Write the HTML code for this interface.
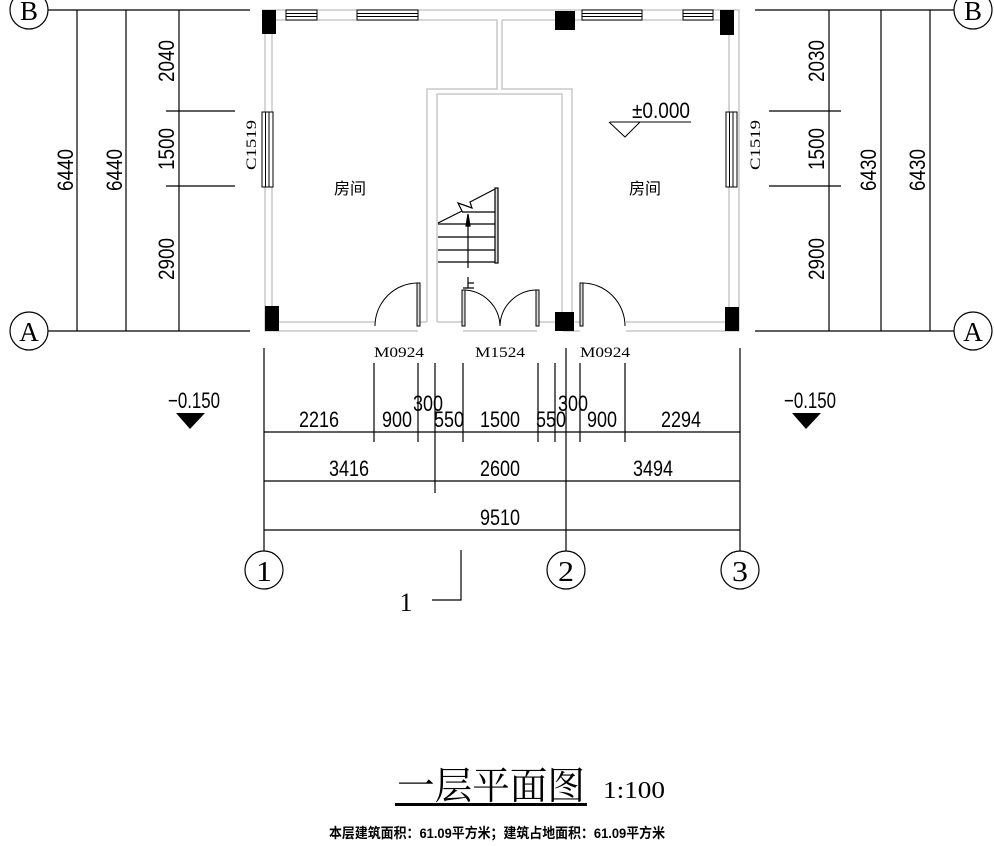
<!DOCTYPE html>
<html><head><meta charset="utf-8"><style>
html,body{margin:0;padding:0;background:#fff;}
svg{display:block;}
.d{font-family:"Liberation Sans",sans-serif;font-size:22px;fill:#000;}
.s{font-family:"Liberation Serif",serif;font-size:15px;fill:#000;}
.c{font-family:"Liberation Sans","Noto Sans CJK SC",sans-serif;font-size:16px;fill:#000;}
</style></head><body>
<svg width="994" height="846" viewBox="0 0 994 846" xmlns="http://www.w3.org/2000/svg">
<g fill="none" stroke="#c8c8c8" stroke-width="1.5">
<path d="M262 10 H739 V331 H626 M580 331 H563 M537 331 H463 M418 331 H375 M375 331 H265 V10"/>
<path d="M272 20 H497 V89 H427 V322 M502 20 H729 V322 H626 M502 20 V89 H572 V322 M437 322 V94 H562 V322 M272 20 V322 H375"/>
<path d="M418 322 H427 M437 322 H463 M537 322 H555 M575 322 H580"/>
</g>
<g fill="#fff" stroke="#000" stroke-width="1">
<rect x="286" y="10" width="31" height="10"/><line x1="286" y1="13.5" x2="317" y2="13.5"/><line x1="286" y1="16.5" x2="317" y2="16.5"/>
<rect x="357" y="10" width="61" height="10"/><line x1="357" y1="13.5" x2="418" y2="13.5"/><line x1="357" y1="16.5" x2="418" y2="16.5"/>
<rect x="582" y="10" width="60" height="10"/><line x1="582" y1="13.5" x2="642" y2="13.5"/><line x1="582" y1="16.5" x2="642" y2="16.5"/>
<rect x="683" y="10" width="30" height="10"/><line x1="683" y1="13.5" x2="713" y2="13.5"/><line x1="683" y1="16.5" x2="713" y2="16.5"/>
<rect x="262" y="112" width="11" height="75"/><line x1="265.5" y1="112" x2="265.5" y2="187"/><line x1="269" y1="112" x2="269" y2="187"/>
<rect x="726" y="112" width="11" height="75"/><line x1="729.5" y1="112" x2="729.5" y2="187"/><line x1="733" y1="112" x2="733" y2="187"/>
</g>
<g fill="#000">
<rect x="262" y="10" width="14" height="24"/>
<rect x="555" y="11" width="20" height="19"/>
<rect x="720" y="10" width="14" height="25"/>
<rect x="265" y="306" width="14" height="25"/>
<rect x="555" y="312" width="19" height="19"/>
<rect x="725" y="307" width="14" height="24"/>
</g>
<g stroke="#000" stroke-width="1.2" fill="none">
<line x1="438" y1="224" x2="497" y2="224"/><line x1="438" y1="237" x2="497" y2="237"/>
<line x1="438" y1="250" x2="497" y2="250"/><line x1="438" y1="262" x2="497" y2="262"/>
<line x1="462" y1="212" x2="497" y2="212"/>
<path d="M438 223 L462 211 L458 203 L472 208 L470 202 L497 188"/>
<rect x="495" y="188" width="3" height="75" fill="#ddd"/>
<line x1="468" y1="268" x2="468" y2="222"/>
<path d="M466 226 L468 214 L470 226 Z" fill="#000"/>
<path d="M468 277 V288 M468 283 H474 M463 288 H474"/>
</g>
<g stroke="#000" stroke-width="1" fill="none">
<path d="M375 326 A43 43 0 0 1 418 283"/>
<rect x="417" y="283" width="3" height="43" fill="#ddd"/>
<path d="M463 290 A37 37 0 0 1 500 326 A37 37 0 0 1 537 290"/>
<rect x="462" y="290" width="3" height="36" fill="#ddd"/>
<rect x="536" y="290" width="3" height="36" fill="#ddd"/>
<path d="M582 283 A43 43 0 0 1 625 326"/>
<rect x="580" y="283" width="3" height="43" fill="#ddd"/>
</g>
<text x="632" y="118" class="d" textLength="58" lengthAdjust="spacingAndGlyphs">±0.000</text>
<path d="M610 122 H691 M609 122 L625 137 L640 122" stroke="#000" fill="none"/>
<text x="334" y="194" class="c">房间</text>
<text x="629" y="194" class="c">房间</text>
<g stroke="#000" stroke-width="1.2">
<line x1="48" y1="10" x2="250" y2="10"/><line x1="48" y1="331" x2="250" y2="331"/>
<line x1="77" y1="10" x2="77" y2="331"/><line x1="126" y1="10" x2="126" y2="331"/><line x1="179" y1="10" x2="179" y2="331"/>
<line x1="166" y1="111" x2="235" y2="111"/><line x1="166" y1="186" x2="235" y2="186"/>
<line x1="755" y1="10" x2="955" y2="10"/><line x1="755" y1="331" x2="955" y2="331"/>
<line x1="829" y1="10" x2="829" y2="331"/><line x1="881" y1="10" x2="881" y2="331"/><line x1="930" y1="10" x2="930" y2="331"/>
<line x1="769" y1="111" x2="841" y2="111"/><line x1="769" y1="186" x2="841" y2="186"/>
</g>
<g fill="#fff" stroke="#000" stroke-width="1.2">
<circle cx="29" cy="10" r="19"/><circle cx="29" cy="331" r="19"/>
<circle cx="973" cy="10" r="19"/><circle cx="973" cy="331" r="19"/>
</g>
<g font-family="Liberation Serif,serif" font-size="27" text-anchor="middle">
<text x="29" y="20">B</text><text x="29" y="341">A</text>
<text x="973" y="20">B</text><text x="973" y="341">A</text>
</g>
<g class="d">
<text transform="translate(73,170) rotate(-90)" text-anchor="middle" textLength="42" lengthAdjust="spacingAndGlyphs">6440</text>
<text transform="translate(122,170) rotate(-90)" text-anchor="middle" textLength="42" lengthAdjust="spacingAndGlyphs">6440</text>
<text transform="translate(174,61) rotate(-90)" text-anchor="middle" textLength="42" lengthAdjust="spacingAndGlyphs">2040</text>
<text transform="translate(174,149) rotate(-90)" text-anchor="middle" textLength="42" lengthAdjust="spacingAndGlyphs">1500</text>
<text transform="translate(174,259) rotate(-90)" text-anchor="middle" textLength="42" lengthAdjust="spacingAndGlyphs">2900</text>
<text transform="translate(824,61) rotate(-90)" text-anchor="middle" textLength="42" lengthAdjust="spacingAndGlyphs">2030</text>
<text transform="translate(824,149) rotate(-90)" text-anchor="middle" textLength="42" lengthAdjust="spacingAndGlyphs">1500</text>
<text transform="translate(824,259) rotate(-90)" text-anchor="middle" textLength="42" lengthAdjust="spacingAndGlyphs">2900</text>
<text transform="translate(876,170) rotate(-90)" text-anchor="middle" textLength="42" lengthAdjust="spacingAndGlyphs">6430</text>
<text transform="translate(925,170) rotate(-90)" text-anchor="middle" textLength="42" lengthAdjust="spacingAndGlyphs">6430</text>
</g>
<g class="s" fill="#333">
<text transform="translate(256,145) rotate(-90)" text-anchor="middle" textLength="50" lengthAdjust="spacingAndGlyphs">C1519</text>
<text transform="translate(760,145) rotate(-90)" text-anchor="middle" textLength="50" lengthAdjust="spacingAndGlyphs">C1519</text>
<text x="399" y="357" text-anchor="middle" textLength="50" lengthAdjust="spacingAndGlyphs">M0924</text>
<text x="500" y="357" text-anchor="middle" textLength="50" lengthAdjust="spacingAndGlyphs">M1524</text>
<text x="605" y="357" text-anchor="middle" textLength="50" lengthAdjust="spacingAndGlyphs">M0924</text>
</g>
<g stroke="#000" stroke-width="1.2">
<line x1="264" y1="348" x2="264" y2="551"/><line x1="740" y1="348" x2="740" y2="551"/>
<line x1="566" y1="348" x2="566" y2="551"/>
<line x1="374" y1="363" x2="374" y2="442"/><line x1="418" y1="363" x2="418" y2="442"/>
<line x1="435" y1="363" x2="435" y2="493"/><line x1="463" y1="363" x2="463" y2="442"/>
<line x1="538" y1="363" x2="538" y2="442"/><line x1="555" y1="363" x2="555" y2="442"/>
<line x1="580" y1="363" x2="580" y2="442"/><line x1="625" y1="363" x2="625" y2="442"/>
<line x1="264" y1="432" x2="740" y2="432"/>
<line x1="264" y1="481" x2="740" y2="481"/>
<line x1="264" y1="530" x2="740" y2="530"/>
<path d="M461 550 V600 H432" fill="none"/>
</g>
<g fill="#fff" stroke="#000" stroke-width="1.2">
<circle cx="264" cy="570" r="19"/><circle cx="566" cy="570" r="19"/><circle cx="740" cy="570" r="19"/>
</g>
<g font-family="Liberation Serif,serif" font-size="28" text-anchor="middle">
<text x="264" y="581" textLength="16" lengthAdjust="spacingAndGlyphs">1</text>
<text x="566" y="581" textLength="16" lengthAdjust="spacingAndGlyphs">2</text>
<text x="740" y="581" textLength="16" lengthAdjust="spacingAndGlyphs">3</text>
<text x="406" y="611" font-size="26">1</text>
</g>
<g class="d" text-anchor="middle">
<text x="319" y="427" textLength="40" lengthAdjust="spacingAndGlyphs">2216</text>
<text x="397" y="427" textLength="30" lengthAdjust="spacingAndGlyphs">900</text>
<text x="428" y="411" textLength="30" lengthAdjust="spacingAndGlyphs">300</text>
<text x="449" y="427" textLength="30" lengthAdjust="spacingAndGlyphs">550</text>
<text x="500" y="427" textLength="40" lengthAdjust="spacingAndGlyphs">1500</text>
<text x="551" y="427" textLength="30" lengthAdjust="spacingAndGlyphs">550</text>
<text x="573" y="411" textLength="30" lengthAdjust="spacingAndGlyphs">300</text>
<text x="602" y="427" textLength="30" lengthAdjust="spacingAndGlyphs">900</text>
<text x="681" y="427" textLength="40" lengthAdjust="spacingAndGlyphs">2294</text>
<text x="349" y="476" textLength="40" lengthAdjust="spacingAndGlyphs">3416</text>
<text x="500" y="476" textLength="40" lengthAdjust="spacingAndGlyphs">2600</text>
<text x="653" y="476" textLength="40" lengthAdjust="spacingAndGlyphs">3494</text>
<text x="500" y="525" textLength="40" lengthAdjust="spacingAndGlyphs">9510</text>
<text x="194" y="408" textLength="52" lengthAdjust="spacingAndGlyphs">−0.150</text>
<text x="810" y="408" textLength="52" lengthAdjust="spacingAndGlyphs">−0.150</text>
</g>
<path d="M176 413 H205 L190 429 Z M792 413 H821 L806 429 Z" fill="#000"/>
<text x="397" y="799" font-family="Liberation Serif,'Noto Serif CJK SC',serif" font-size="38" textLength="188" lengthAdjust="spacingAndGlyphs">一层平面图</text>
<rect x="395" y="803" width="192" height="3" fill="#000"/>
<text x="603" y="798" font-family="Liberation Serif,serif" font-size="24" textLength="62" lengthAdjust="spacingAndGlyphs">1:100</text>
<text x="497" y="838" text-anchor="middle" font-family="'Liberation Sans','Noto Sans CJK SC',sans-serif" font-size="14" font-weight="bold" textLength="336" lengthAdjust="spacingAndGlyphs">本层建筑面积：61.09平方米；建筑占地面积：61.09平方米</text>
</svg>
</body></html>
